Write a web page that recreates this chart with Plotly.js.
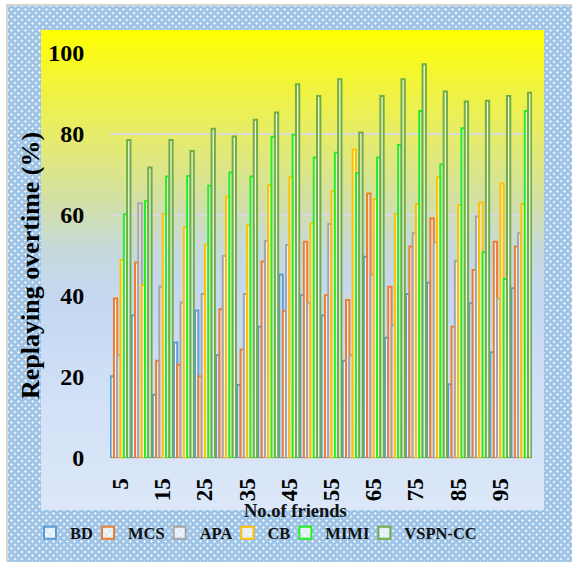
<!DOCTYPE html>
<html>
<head>
<meta charset="utf-8">
<script src="https://cdn.plot.ly/plotly-3.0.1.min.js"></script>
<style>
  html, body { margin: 0; padding: 0; background: #ffffff; }
  #wrap { position: relative; width: 572px; height: 562px; overflow: hidden; }
  #outer {
    position: absolute; left: 6px; top: 4px; width: 572px; height: 562px;
    border-left: 2px solid #d4d4d4; border-top: 2px solid #d4d4d4;
    background-color: #9dc3e6;
    background-image: radial-gradient(circle, rgba(255,255,255,0.95) 0.9px, rgba(255,255,255,0) 1.3px),
                      radial-gradient(circle, rgba(255,255,255,0.95) 0.9px, rgba(255,255,255,0) 1.3px);
    background-size: 7px 7px, 7px 7px;
    background-position: 0 0, 3.5px 3.5px;
  }
  #panel {
    position: absolute; left: 41px; top: 30px; width: 503px; height: 480px;
    background: linear-gradient(to bottom, #ffff00 0%, #f3f535 10%, #e6ec6a 22%, #d2e0a6 36%, #c6d9dc 46%, #c4d8f2 56%, #d0e0f6 75%, #dce8f8 100%);
  }
  #chart { position: absolute; left: 0; top: 0; width: 572px; height: 562px; }
</style>
</head>
<body>
<div id="wrap">
  <div id="outer"></div>
  <div id="panel"></div>
  <div id="chart"></div>
</div>
<script>
// Data
const friends = ["5","10","15","20","25","30","35","40","45","50","55","60","65","70","75","80","85","90","95","100"];
const tickLabels = ["5","15","25","35","45","55","65","75","85","95"];
const yTicks = [0, 20, 40, 60, 80, 100];
const BD     = [20.2, 35.2, 15.6, 28.5, 36.4, 25.4, 18.0, 32.4, 45.3, 40.2, 35.2, 24.0, 49.7, 29.7, 40.5, 43.3, 18.2, 38.2, 26.1, 41.9];
const MCS    = [39.4, 48.3, 24.0, 23.0, 20.2, 36.7, 26.8, 48.5, 36.3, 53.4, 40.2, 39.0, 65.3, 42.3, 52.2, 59.2, 32.4, 46.4, 53.4, 52.2];
const APA    = [25.4, 62.9, 42.3, 38.4, 40.5, 49.9, 40.5, 53.6, 52.6, 38.2, 57.8, 25.4, 45.3, 32.7, 55.5, 53.3, 48.7, 59.6, 39.4, 55.5];
const CB     = [48.9, 42.7, 60.2, 56.9, 52.7, 64.5, 57.4, 67.4, 69.3, 57.9, 65.9, 76.2, 63.9, 60.2, 62.7, 69.3, 62.5, 63.1, 67.8, 62.7];
const MIMI   = [60.2, 63.4, 69.5, 69.6, 67.2, 70.5, 69.5, 79.3, 79.8, 74.2, 75.4, 70.3, 74.2, 77.3, 85.7, 72.5, 81.4, 50.8, 44.2, 85.7];
const VSPNCC = [78.5, 71.7, 78.5, 75.8, 81.3, 79.4, 83.5, 85.3, 92.3, 89.4, 93.5, 80.4, 89.4, 93.5, 97.2, 90.5, 88.0, 88.2, 89.4, 90.2];

const seriesNames = ["BD", "MCS", "APA", "CB", "MIMI", "VSPN-CC"];
const seriesData = [BD, MCS, APA, CB, MIMI, VSPNCC];
const seriesColors = ["#5b9bd5", "#ed7d31", "#a5a5a5", "#ffc000", "#22ee22", "#70ad47"];

const FONT = "'Liberation Serif', 'Times New Roman', serif";

const traces = seriesNames.map((n, i) => ({
  type: "bar",
  name: "<b>" + n + "</b>",
  x: friends,
  y: seriesData[i],
  marker: {
    color: "rgba(255,255,255,0.7)",
    line: { color: seriesColors[i], width: 2 }
  }
}));

const layout = {
  width: 572,
  height: 562,
  paper_bgcolor: "rgba(0,0,0,0)",
  plot_bgcolor: "rgba(0,0,0,0)",
  margin: { l: 110, r: 40, t: 53, b: 104 },
  barmode: "group",
  bargap: 0.06,
  bargroupgap: 0,
  showlegend: true,
  legend: {
    orientation: "h",
    xref: "paper", yref: "paper",
    x: (40 - 110) / 422, xanchor: "left",
    y: (458 - 533) / 405, yanchor: "middle",
    font: { family: FONT, size: 16.5, color: "#111" },
    bgcolor: "rgba(0,0,0,0)",
    itemwidth: 30,
    indentation: -10,
    tracegroupgap: 0
  },
  xaxis: {
    type: "category",
    tickmode: "array",
    tickvals: tickLabels,
    ticktext: tickLabels.map(t => "<b>" + t + "</b>"),
    tickangle: -90,
    tickfont: { family: FONT, size: 23, color: "#000" },
    ticks: "outside", ticklen: 10, tickcolor: "rgba(0,0,0,0)",
    showgrid: false,
    zeroline: false,
    showline: false
  },
  yaxis: {
    range: [0, 100],
    tickmode: "array",
    tickvals: yTicks,
    ticktext: yTicks.map(v => "<b>" + v + "</b>"),
    tickfont: { family: FONT, size: 24, color: "#000" },
    ticks: "outside", ticklen: 20, tickcolor: "rgba(0,0,0,0)",
    showgrid: true,
    gridcolor: "#d9d9d9",
    gridwidth: 2.5,
    zeroline: true,
    zerolinecolor: "#d9d9d9",
    zerolinewidth: 2.5,
    showline: false
  },
  annotations: [
    {
      text: "<b>No.of friends</b>", showarrow: false,
      xref: "paper", yref: "paper",
      x: (295 - 110) / 422, y: (458 - 511) / 405,
      xanchor: "center", yanchor: "middle",
      font: { family: FONT, size: 18.5, color: "#111" }
    },
    {
      text: "<b>Replaying overtime (%)</b>", showarrow: false, textangle: -90,
      xref: "paper", yref: "paper",
      x: (30 - 110) / 422, y: (458 - 266) / 405,
      xanchor: "center", yanchor: "middle",
      font: { family: FONT, size: 26, color: "#000" }
    }
  ],
  font: { family: FONT }
};

Plotly.newPlot("chart", traces, layout, { displayModeBar: false, staticPlot: true });
</script>
</body>
</html>
